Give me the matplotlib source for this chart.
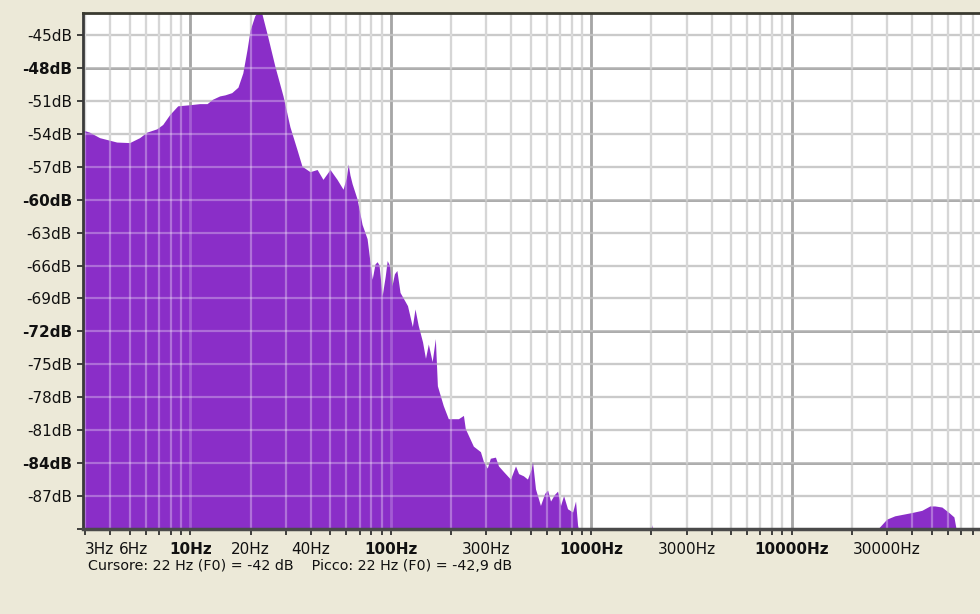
import numpy as np
import matplotlib
matplotlib.use("Agg")
import matplotlib.pyplot as plt
from matplotlib import transforms

# ---------------- data ----------------
freq_hz = [2.92, 3.16, 3.55, 4.32, 5.01, 5.62, 6.10, 6.84, 7.33, 7.94, 8.71,
           10.0, 11.2, 12.2, 13.0, 14.1, 15.0, 16.2, 17.4, 18.4, 19.3, 20.0,
           20.5, 21.1, 21.9, 22.9, 24.5, 26.6, 29.2, 31.6, 34.3, 36.3, 39.8,
           43.2, 46.2, 50.1, 54.3, 58.2, 60.5, 61.7, 63.0, 64.6, 68.4, 72.4,
           76.7, 81.3, 84.0, 86.1, 88.0, 91.2, 94.5, 96.6, 99.0, 102, 105,
           108, 112, 122, 129, 133, 138, 145, 150, 155, 162, 168, 172, 184,
           195, 207, 219, 232, 237, 260, 282, 292, 305, 316, 335, 347, 367,
           398, 422, 437, 462, 484, 505, 513, 531, 562, 590, 610, 631, 660,
           684, 708, 733, 767, 813, 841, 861, 880]
level_db = [-53.7, -53.9, -54.4, -54.8, -54.85, -54.4, -53.9, -53.6, -53.2,
            -52.3, -51.5, -51.4, -51.3, -51.3, -50.9, -50.6, -50.5, -50.3,
            -49.8, -48.5, -46.4, -44.6, -44.0, -43.3, -42.9, -43.1, -45.2,
            -47.9, -50.6, -53.4, -55.5, -57.0, -57.5, -57.3, -58.2, -57.3,
            -58.2, -59.1, -58.0, -56.8, -57.8, -58.6, -60.0, -62.3, -63.6,
            -67.3, -65.9, -65.7, -66.0, -68.8, -67.0, -65.6, -66.0, -67.9,
            -66.8, -66.5, -68.5, -69.7, -71.6, -70.0, -71.5, -73.0, -74.5,
            -73.2, -74.8, -72.7, -77.0, -78.8, -80.0, -80.0, -80.0, -79.7,
            -80.9, -82.5, -83.0, -83.9, -84.5, -83.6, -83.5, -84.3, -84.8,
            -85.5, -84.3, -85.0, -85.2, -85.5, -84.6, -83.9, -86.4, -87.9,
            -86.8, -86.5, -87.5, -86.9, -86.6, -87.9, -87.0, -88.2, -88.5,
            -87.5, -89.7, -90.5]

blip_hz = [1990, 2018, 2045]
blip_db = [-90.5, -89.6, -90.5]

ultra_hz = [26800, 27230, 29850, 32730, 39810, 44670, 48980, 51880, 56230,
            60950, 64570, 66070, 66500]
ultra_db = [-90.5, -89.9, -89.1, -88.8, -88.5, -88.3, -87.9, -87.9, -88.0,
            -88.5, -88.9, -89.9, -90.5]

y_tick_db = [-45, -48, -51, -54, -57, -60, -63, -66, -69, -72, -75, -78,
             -81, -84, -87]
y_bold_db = [-48, -60, -72, -84]

x_label_hz = [3, 6, 10, 20, 40, 100, 300, 1000, 3000, 10000, 30000]
x_label_txt = ["3Hz", "6Hz", "10Hz", "20Hz", "40Hz", "100Hz", "300Hz",
               "1000Hz", "3000Hz", "10000Hz", "30000Hz"]
x_bold_hz = [10, 100, 1000, 10000]

status_text = "Cursore: 22 Hz (F0) = -42 dB    Picco: 22 Hz (F0) = -42,9 dB"

# ---------------- figure ----------------
W, H = 980, 614
fig = plt.figure(figsize=(W / 100, H / 100), dpi=100, facecolor="#ECE9D8")
ax = fig.add_axes([83 / W, 1 - 529 / H, 1 - 83 / W + 0.002, (529 - 13) / H])
ax.set_facecolor("white")
ax.set_xscale("log")
xmin, xmax = 2.917, 89125
ymin, ymax = -90, -43
ax.set_xlim(xmin, xmax)
ax.set_ylim(ymin, ymax)

decades = [1, 10, 100, 1000, 10000]
major_x = [10, 100, 1000, 10000]
minor_x = [d * k for d in decades for k in range(2, 10)
           if xmin < d * k < xmax and d * k not in major_x]
h_lines = list(range(-87, -44, 3))
h_major = y_bold_db

# bottom layer grid (visible on white)
ax.vlines(minor_x, -100, 0, colors="#c4c4c4", lw=1.6, zorder=0.5)
ax.vlines(major_x, -100, 0, colors="#8e8e8e", lw=2.0, zorder=0.6)
ax.hlines([h for h in h_lines if h not in h_major], 1, 1e6,
          colors="#b4b4b4", lw=1.6, zorder=0.5)
ax.hlines(h_major, 1, 1e6, colors="#8e8e8e", lw=1.8, zorder=0.6)

# spectrum fill
purple = "#8A2EC8"
ax.fill_between(freq_hz, level_db, -100, color=purple, lw=0, zorder=1)
ax.fill_between(blip_hz, blip_db, -100, color=purple, lw=0, zorder=1)
ax.fill_between(ultra_hz, ultra_db, -100, color=purple, lw=0, zorder=1)

# top layer grid (visible only over the purple)
ax.vlines(minor_x, -100, 0, colors="white", alpha=0.32, lw=1.6, zorder=2)
ax.vlines(major_x, -100, 0, colors="white", alpha=0.22, lw=2.0, zorder=2)
ax.hlines(h_lines, 1, 1e6, colors="white", alpha=0.3, lw=1.6, zorder=2)

# spines
ax.spines["right"].set_visible(False)
ax.spines["left"].set_color("#3a3a3a")
ax.spines["left"].set_linewidth(2.0)
ax.spines["top"].set_color("#3a3a30")
ax.spines["top"].set_linewidth(2.0)
ax.spines["bottom"].set_color("#4a4a4a")
ax.spines["bottom"].set_linewidth(2.5)
for sp in ax.spines.values():
    sp.set_zorder(3)

# x ticks (marks only)
ax.set_xticks(major_x)
ax.set_xticks(minor_x, minor=True)
ax.tick_params(axis="x", which="both", direction="out", length=4, width=1.2,
               color="#222222", labelbottom=False)

# x labels as text with small per-label shifts
label_shift_px = {3: 14, 6: -12}
for fz, txt in zip(x_label_hz, x_label_txt):
    tr = transforms.blended_transform_factory(ax.transData, ax.transAxes)
    dx = label_shift_px.get(fz, 0)
    tr = tr + transforms.ScaledTranslation(dx / 100, -20 / 100, fig.dpi_scale_trans)
    ax.text(fz, 0, txt, transform=tr, ha="center", va="center",
            fontsize=11, color="#111111",
            fontweight="bold" if fz in x_bold_hz else "normal",
            family="DejaVu Sans", clip_on=False)

# y ticks
ax.set_yticks(y_tick_db + [-90])
ax.set_yticklabels([f"{v}dB" for v in y_tick_db] + [""])
for lab, v in zip(ax.get_yticklabels(), y_tick_db + [-90]):
    lab.set_fontweight("bold" if v in y_bold_db else "normal")
    lab.set_color("#111111")
ax.tick_params(axis="y", which="both", direction="out", length=4, width=1.2,
               color="#222222", pad=4, labelsize=11)
ax.yaxis.set_minor_locator(matplotlib.ticker.NullLocator())

fig.text(88 / W, 1 - 566 / H, status_text, ha="left", va="center",
         fontsize=10.3, color="#111111", family="DejaVu Sans")

fig.savefig("out.png", dpi=100, facecolor=fig.get_facecolor())
